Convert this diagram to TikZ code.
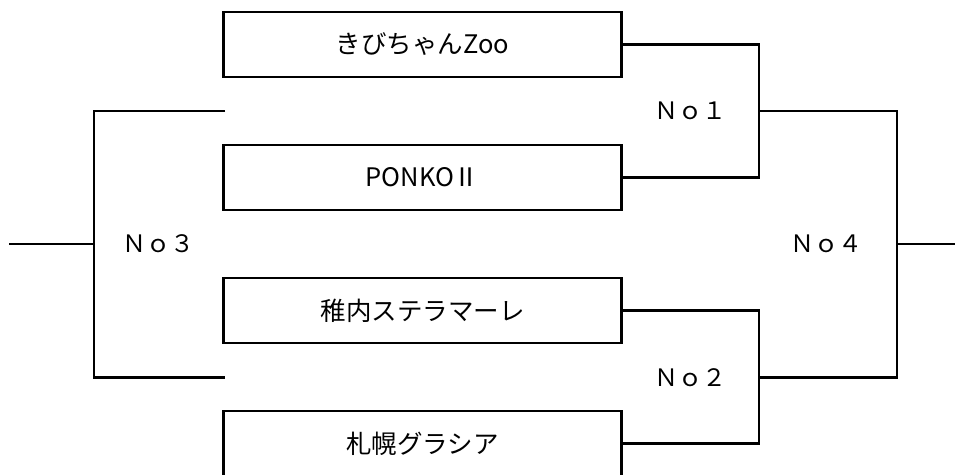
\documentclass[tikz,border=0pt]{standalone}
\usepackage{fontspec}
\setmainfont{Noto Sans CJK JP}
\usetikzlibrary{positioning}

\begin{document}
\begin{tikzpicture}[x=1pt, y=-1pt, line width=2.8pt, node distance=68pt]
\tikzstyle{team}=[draw=black, minimum width=398pt, minimum height=65pt, outer sep=0pt, inner sep=0pt, font=\fontsize{25.5}{30}\selectfont]
\tikzstyle{match}=[inner sep=0pt, font=\fontsize{24}{28}\selectfont]
\useasboundingbox (0,0) rectangle (955,474);
% teams
\node[team] (A) at (422.5,44.5) {きびちゃんZoo};
\node[team] (B) [below=of A]    {PONKOⅡ};
\node[team] (C) [below=of B]    {稚内ステラマーレ};
\node[team] (D) [below=of C]    {札幌グラシア};
% junctions
\coordinate (j1) at (759,111);
\coordinate (j2) at (759,377.5);
\coordinate (j4) at (897,244);
\coordinate (j3) at (94,244);
\coordinate (l1) at (225,111);
\coordinate (l2) at (225,377.5);
\coordinate (e3) at (9,244);
\coordinate (e4) at (955,244);
% brackets
\draw (A.east) -| (j1) |- (B.east);
\draw (C.east) -| (j2) |- (D.east);
\draw (j1) -| (j4) |- (j2);
\draw (l1) -| (j3) |- (l2);
\draw (j3) -- (e3);
\draw (j4) -- (e4);
% match numbers
\node[match] (m1) [left=31pt of j1]  {Ｎｏ１};
\node[match] (m2) [left=31pt of j2]  {Ｎｏ２};
\node[match] (m3) [right=27pt of j3] {Ｎｏ３};
\node[match] (m4) [left=33pt of j4]  {Ｎｏ４};
\end{tikzpicture}
\end{document}
